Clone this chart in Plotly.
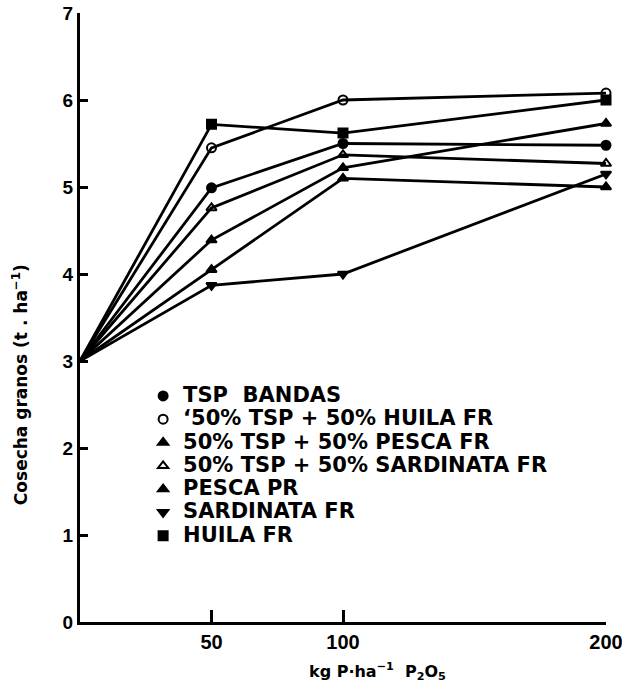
import plotly.graph_objects as go

# ---- data ----
doses = [0, 50, 100, 200]  # kg P.ha-1 P2O5

names = [
    "TSP  BANDAS",
    "‘50% TSP + 50% HUILA FR",
    "50% TSP + 50% PESCA FR",
    "50% TSP + 50% SARDINATA FR",
    "PESCA PR",
    "SARDINATA FR",
    "HUILA FR",
]
tsp_bandas = [3.0, 4.99, 5.50, 5.48]
tsp_huila = [3.0, 5.45, 6.00, 6.08]
tsp_pesca = [3.0, 4.39, 5.22, 5.73]
tsp_sardinata = [3.0, 4.76, 5.37, 5.27]
pesca_pr = [3.0, 4.05, 5.10, 5.00]
sardinata_fr = [3.0, 3.87, 4.00, 5.15]
huila_fr = [3.0, 5.72, 5.62, 6.00]

series = [tsp_bandas, tsp_huila, tsp_pesca, tsp_sardinata, pesca_pr, sardinata_fr, huila_fr]
symbols = ["circle", "circle-open", "triangle-up", "triangle-up-open",
           "triangle-up", "triangle-down", "square"]

y_ticks = [0, 1, 2, 3, 4, 5, 6, 7]
x_ticks = [50, 100, 200]

BLACK = "#000000"
fig = go.Figure()

# lines (no legend)
for name, vals in zip(names, series):
    fig.add_trace(go.Scatter(
        x=doses, y=vals, mode="lines",
        line=dict(color=BLACK, width=2.8),
        showlegend=False, hoverinfo="skip", cliponaxis=False,
    ))

# markers (with legend)
for name, vals, sym in zip(names, series, symbols):
    fig.add_trace(go.Scatter(
        x=doses[1:], y=vals[1:], mode="markers",
        name=f'<span style="font-size:21px">{name}</span>',
        marker=dict(symbol=sym, size=9, color=BLACK,
                    line=dict(color=BLACK, width=2)),
        cliponaxis=False,
    ))

fig.update_layout(
    width=622, height=683,
    margin=dict(l=80, r=16, t=13, b=61, autoexpand=False),
    paper_bgcolor="white", plot_bgcolor="white",
    font=dict(family="Liberation Sans, Arial, sans-serif", color=BLACK),
    showlegend=True,
    legend=dict(
        x=0.12, y=0.3985, xanchor="left", yanchor="top",
        xref="paper", yref="paper",
        font=dict(family="DejaVu Sans", size=15.6, weight="bold", color=BLACK),
        bgcolor="rgba(0,0,0,0)", borderwidth=0,
        tracegroupgap=0, itemwidth=30,
    ),
    xaxis=dict(
        range=[0, 200], tickvals=x_ticks, ticktext=[str(v) for v in x_ticks],
        showline=True, linecolor=BLACK, linewidth=3,
        ticks="inside", ticklen=12, tickwidth=2.5, tickcolor=BLACK,
        showgrid=False, zeroline=False, automargin=False,
        ticklabeloverflow="allow",
        tickfont=dict(family="Liberation Sans", size=20, weight="bold"),
    ),
    yaxis=dict(
        range=[0, 7], tickvals=y_ticks, ticktext=[str(v) for v in y_ticks],
        showline=True, linecolor=BLACK, linewidth=3,
        ticks="inside", ticklen=8, tickwidth=2.5, tickcolor=BLACK,
        showgrid=False, zeroline=False, automargin=False,
        ticklabeloverflow="allow",
        tickfont=dict(family="Liberation Sans", size=19, weight="bold"),
    ),
    annotations=[
        dict(text="Cosecha granos (t . ha<sup>−1</sup>)", textangle=-90,
             xref="paper", yref="paper", x=-0.114, y=0.389,
             xanchor="center", yanchor="middle", showarrow=False,
             font=dict(family="DejaVu Sans", size=17, weight="bold")),
        dict(text="kg P·ha<sup>−1</sup>  P<sub>2</sub>O<sub>5</sub>",
             xref="paper", yref="paper", x=0.565, y=-0.082,
             xanchor="center", yanchor="middle", showarrow=False,
             font=dict(family="DejaVu Sans", size=16, weight="bold")),
    ],
)

fig.write_html("out.html", config={"displayModeBar": False},
               post_script="document.body.style.margin='0';")
